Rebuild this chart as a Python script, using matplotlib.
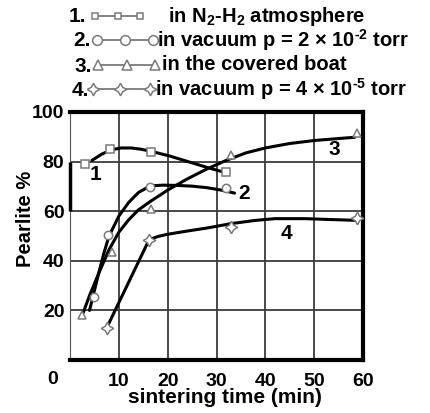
import matplotlib
matplotlib.use("Agg")
import matplotlib.pyplot as plt

plt.rcParams['font.family'] = ['Liberation Sans', 'DejaVu Sans']
plt.rcParams['font.weight'] = 'bold'
plt.rcParams['mathtext.fontset'] = 'custom'
plt.rcParams['mathtext.rm'] = 'Liberation Sans:bold'
plt.rcParams['mathtext.it'] = 'Liberation Sans:bold'
plt.rcParams['mathtext.bf'] = 'Liberation Sans:bold'
plt.rcParams['mathtext.default'] = 'rm'

# ---- data ----
# series 1: N2-H2 atmosphere
s1_x = [3.0, 8.2, 16.5, 32.0]
s1_y = [79, 85, 84, 76]
c1_x = [4.5, 6.5, 8.5, 10.5, 12.5, 14.5, 16.5, 18.5, 20.5, 22.5, 24.5, 26.5, 28.5, 30.5, 32.5]
c1_y = [80.5, 83.0, 84.8, 85.5, 85.5, 85.0, 84.2, 83.2, 82.2, 81.0, 79.8, 78.6, 77.4, 76.3, 75.3]

# series 2: vacuum 2e-2 torr
s2_x = [4.9, 7.8, 16.4, 32.0]
s2_y = [25.4, 50.4, 69.8, 69.4]
c2_x = [4.0, 5.0, 6.0, 7.0, 8.0, 10.0, 12.0, 14.0, 16.4, 19.0, 22.0, 25.0, 28.0, 31.0, 33.7]
c2_y = [20.0, 28.0, 36.0, 43.5, 50.0, 58.0, 63.5, 67.5, 70.2, 70.5, 70.4, 70.1, 69.5, 68.5, 67.3]

# series 3: covered boat
s3_x = [2.5, 8.6, 16.5, 33.0, 58.7]
s3_y = [18, 43.5, 61, 82.6, 91.5]
c3_x = [2.5, 4.0, 6.0, 8.0, 10.0, 12.0, 14.0, 16.5, 20.0, 24.0, 28.0, 32.0, 36.0, 40.0, 45.0, 50.0, 55.0, 58.3]
c3_y = [18.0, 26.0, 35.5, 44.5, 51.5, 56.5, 60.5, 64.0, 68.5, 73.0, 77.0, 80.5, 83.5, 85.5, 87.3, 88.5, 89.3, 89.8]

# series 4: vacuum 4e-5 torr
s4_x = [7.5, 16.2, 33.0, 58.7]
s4_y = [12.9, 48.5, 53.6, 57.3]
c4_x = [7.5, 16.2, 18.0, 20.0, 24.0, 28.0, 33.0, 38.0, 42.0, 48.0, 54.0, 58.7]
c4_y = [12.9, 48.5, 49.8, 50.7, 52.0, 53.2, 55.0, 56.3, 57.0, 57.0, 56.6, 56.3]

curve_labels = ['1', '2', '3', '4']
curve_label_x = [5.2, 35.7, 54.2, 44.4]
curve_label_y = [74.6, 67.0, 84.7, 51.0]

x_ticks = [10, 20, 30, 40, 50, 60]
y_ticks = [20, 40, 60, 80, 100]

legend_nums = ['1.', '2.', '3.', '4.']
legend_texts = ['in N$_2$-H$_2$ atmosphere',
                'in vacuum p = 2 × 10$^{\u20102}$ torr',
                'in the covered boat',
                'in vacuum p = 4 × 10$^{\u20105}$ torr']

W, H = 430, 413
fig = plt.figure(figsize=(W / 100, H / 100), dpi=100)
ax = fig.add_axes([70 / W, (H - 360) / H, (363 - 70) / W, (360 - 112) / H])

ax.set_xlim(0, 60)
ax.set_ylim(0, 100)

gray = '#7a7a7a'
star = (4, 1, 0)
markers = ['s', 'o', '^', star]
msizes = [5.5, 6.0, 6.0, 9.0]
series = [(s1_x, s1_y, c1_x, c1_y), (s2_x, s2_y, c2_x, c2_y),
          (s3_x, s3_y, c3_x, c3_y), (s4_x, s4_y, c4_x, c4_y)]

ax.set_xticks(x_ticks)
ax.set_yticks(y_ticks)
ax.grid(True, color='#3a3a3a', lw=1.3)
ax.set_axisbelow(True)
ax.tick_params(length=0, labelsize=14)
ax.tick_params(axis='x', pad=9)
ax.tick_params(axis='y', pad=4)
for lab in ax.get_xticklabels() + ax.get_yticklabels():
    lab.set_fontweight('bold')

for (mx, my, cx, cy), m, s in zip(series, markers, msizes):
    ax.plot(cx, cy, color='black', lw=2.2, zorder=3, solid_capstyle='round')
    ax.plot(mx, my, ls='none', marker=m, ms=s,
            mfc='white', mec=gray, mew=1.1, zorder=4, clip_on=False)

for t, x, y in zip(curve_labels, curve_label_x, curve_label_y):
    ax.text(x, y, t, fontsize=15, fontweight='bold', ha='center', va='center', zorder=5)

for side in ['top', 'right', 'bottom']:
    ax.spines[side].set_linewidth(3)
ax.spines['left'].set_linewidth(0.8)
ax.spines['left'].set_color('#555555')
ax.plot([0, 0], [0.6, 0.8], transform=ax.transAxes, color='black', lw=2.5,
        clip_on=False, zorder=6, solid_capstyle='butt')

ax.text((53 - 70) / 293, -0.078, '0', transform=ax.transAxes,
        fontsize=14, fontweight='bold', ha='center', va='center')

ax.set_xlabel('sintering time (min)', fontsize=15, fontweight='bold')
ax.xaxis.set_label_coords((225 - 70) / 293, -(388 - 360) / 248)
ax.set_ylabel('Pearlite %', fontsize=14.5, fontweight='bold')
ax.yaxis.set_label_coords(-0.12, 0.57)

# legend overlay in pixel coordinates
lax = fig.add_axes([0, 0, 1, 1], facecolor='none')
lax.set_xlim(0, W)
lax.set_ylim(H, 0)
lax.axis('off')
row_y = [16, 40, 65, 89]
num_x = [77, 82, 83, 80]
sample_x = [[95, 118, 140], [97, 125, 153], [98, 127, 155], [93, 120, 150]]
text_x = [168, 157, 162, 155]
leg_ms = [5, 7, 7, 9]
for i in range(4):
    lax.text(num_x[i], row_y[i] + 1, legend_nums[i], fontsize=15, fontweight='bold',
             ha='center', va='center')
    lax.plot(sample_x[i], [row_y[i]] * 3, color=gray, lw=1.3, marker=markers[i],
             ms=leg_ms[i], mfc='white', mec=gray, mew=1.1)
    lax.text(text_x[i], row_y[i], legend_texts[i], fontsize=14.5, fontweight='bold',
             ha='left', va='center')

fig.savefig('out.png', dpi=100)
